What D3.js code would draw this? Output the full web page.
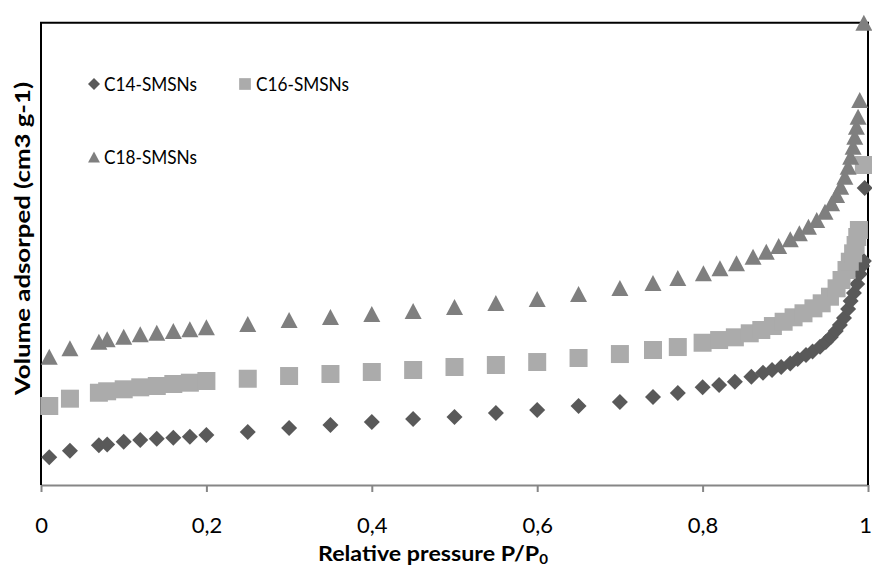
<!DOCTYPE html>
<html><head><meta charset="utf-8">
<script src="https://cdn.jsdelivr.net/npm/d3@7"></script>
<style>html,body{margin:0;padding:0;background:#fff;} svg{display:block;}</style>
</head><body>
<svg id="chart" width="872" height="567"></svg>
<script>
// Series data (P/P0, volume adsorbed in arbitrary units; y axis has no labels)
const c14X = [0.01,0.035,0.07,0.08,0.1,0.12,0.14,0.16,0.18,0.2,0.25,0.3,0.35,0.4,0.45,0.5,0.55,0.6,0.65,0.7,0.74,0.77,0.8,0.82,0.839,0.859,0.873,0.884,0.895,0.906,0.915,0.925,0.933,0.942,0.949,0.955,0.961,0.966,0.971,0.976,0.979,0.983,0.987,0.99,0.993,0.995,0.996];
const c14Y = [41.9,51.9,60.1,61.3,65.6,68.1,70.1,71.6,73.1,75.7,80.2,86.3,90.8,95.4,99.9,103,109,113.6,119.6,125.7,133.2,139.3,147.9,151.4,156.4,164,170,174.1,178.7,184,190.8,196.8,202.1,209.4,216.5,224.1,233.2,242.2,252.8,266.5,278.6,290.7,304.3,319.5,331.6,339,449.7];
const c16X = [0.01,0.035,0.07,0.08,0.1,0.12,0.14,0.16,0.18,0.2,0.25,0.3,0.35,0.4,0.45,0.5,0.55,0.6,0.65,0.7,0.74,0.77,0.8,0.82,0.839,0.857,0.871,0.885,0.898,0.91,0.922,0.934,0.944,0.954,0.962,0.968,0.974,0.978,0.982,0.985,0.987,0.989,0.995];
const c16Y = [119.6,130.7,139.7,141.9,144.9,147.9,149.9,152.9,154.9,157.5,160.9,165,168.1,171.1,174.1,178.7,181.7,186.2,192.3,198.3,204.4,208.9,215.4,219.5,223.6,229.7,234.7,240.7,247.2,253.9,260,267.5,275.1,285.1,297.8,310.4,325.5,338.1,350.8,363.4,375.5,386.1,484.5];
const c18X = [0.01,0.035,0.07,0.08,0.1,0.12,0.14,0.16,0.18,0.2,0.25,0.3,0.35,0.4,0.45,0.5,0.55,0.6,0.65,0.7,0.74,0.77,0.801,0.821,0.841,0.861,0.877,0.892,0.906,0.917,0.928,0.938,0.948,0.956,0.962,0.967,0.972,0.976,0.979,0.982,0.984,0.986,0.988,0.99,0.995];
const c18Y = [194.2,207,217,220.6,224.5,228.2,230.6,233.2,235.7,238.8,243.8,249.8,254.4,258.9,263.4,269.5,275.5,281.6,289.2,298.3,305.8,313.4,320.5,328.1,335.7,345.6,353.2,361.8,372,381.1,391.1,401.2,413.8,426.5,439.1,451.6,466.8,481.9,497,512.2,527.3,542.5,557.6,582.9,700];
const seriesNames = ["C14-SMSNs","C16-SMSNs","C18-SMSNs"];
const xTicks = [0,0.2,0.4,0.6,0.8,1];
const xTickLabels = ["0","0,2","0,4","0,6","0,8","1"];

const svg = d3.select("#chart");
const L = 41, R = 868, T = 22.7, B = 485;
const x = d3.scaleLinear().domain([0,1]).range([L,R]);
const y = d3.scaleLinear().domain([0,700]).range([B,T]);
const FONT = "Lato, 'Open Sans', sans-serif";

const series = [
  {name: seriesNames[0], xs: c14X, ys: c14Y, color: "#595959", shape: "diamond"},
  {name: seriesNames[1], xs: c16X, ys: c16Y, color: "#ABABAB", shape: "square"},
  {name: seriesNames[2], xs: c18X, ys: c18Y, color: "#7F7F7F", shape: "triangle"}
];
function markerPath(shape, k) {
  if (shape === "diamond") { const h = 8*k; return `M0,${-h}L${h},0L0,${h}L${-h},0Z`; }
  if (shape === "square") { const h = 9*k; return `M${-h},${-h}H${h}V${h}H${-h}Z`; }
  const w = 8.5*k, h = 8*k;
  return `M0,${-h}L${w},${h}L${-w},${h}Z`;
}

// x axis
const xAxis = d3.axisBottom(x).tickValues(xTicks).tickFormat((d,i)=>xTickLabels[i]).tickSize(7).tickSizeOuter(0);
const gx = svg.append("g").attr("transform", `translate(0,${B})`).call(xAxis);
gx.select(".domain").attr("stroke", "#868686").attr("stroke-width", 2);
gx.selectAll(".tick line").attr("stroke", "#868686").attr("stroke-width", 2);
gx.selectAll(".tick text").attr("font-family", FONT).attr("font-size", 22).attr("fill", "#000")
  .attr("y", 48).attr("dy", null).attr("dx", (d,i)=> i===xTicks.length-1 ? -3 : 0);

// frame (left, top, right)
svg.append("path").attr("d", `M${L},${B} L${L},${T} L${R},${T} L${R},${B}`)
  .attr("fill","none").attr("stroke","#000").attr("stroke-width",2);

// markers
series.forEach(s => {
  svg.append("g").selectAll("path").data(s.xs.map((v,i)=>[v, s.ys[i]])).join("path")
    .attr("d", markerPath(s.shape, 1))
    .attr("transform", d => `translate(${x(d[0])},${y(d[1])})`)
    .attr("fill", s.color);
});

// legend
const legendPos = [[94,84,104,91],[245,84,256,91],[94,157,104,164]];
series.forEach((s,i) => {
  const [mx,my,tx,ty] = legendPos[i];
  svg.append("path").attr("d", markerPath(s.shape, s.shape==="square"?0.65:(s.shape==="diamond"?0.75:0.7)))
    .attr("transform", `translate(${mx},${my})`).attr("fill", s.color);
  svg.append("text").attr("x", tx).attr("y", ty).text(s.name)
    .attr("font-family", FONT).attr("font-size", 18.5).attr("fill", "#000")
    .attr("textLength", 93).attr("lengthAdjust", "spacingAndGlyphs");
});

// axis titles
const xt = svg.append("text").attr("x", 318).attr("y", 561)
  .attr("font-family", FONT).attr("font-size", 20).attr("font-weight","bold").attr("fill","#000")
  .attr("textLength", 230).attr("lengthAdjust", "spacingAndGlyphs");
xt.append("tspan").text("Relative pressure P/P");
xt.append("tspan").attr("font-size", 13).attr("dy", 3).text("0");

svg.append("text").attr("transform", "translate(30,238.5) rotate(-90)").attr("text-anchor","middle")
  .attr("font-family", FONT).attr("font-size", 20).attr("font-weight","bold").attr("fill","#000")
  .attr("textLength", 313).attr("lengthAdjust", "spacingAndGlyphs")
  .text("Volume adsorped (cm3 g-1)");
</script>
</body></html>
